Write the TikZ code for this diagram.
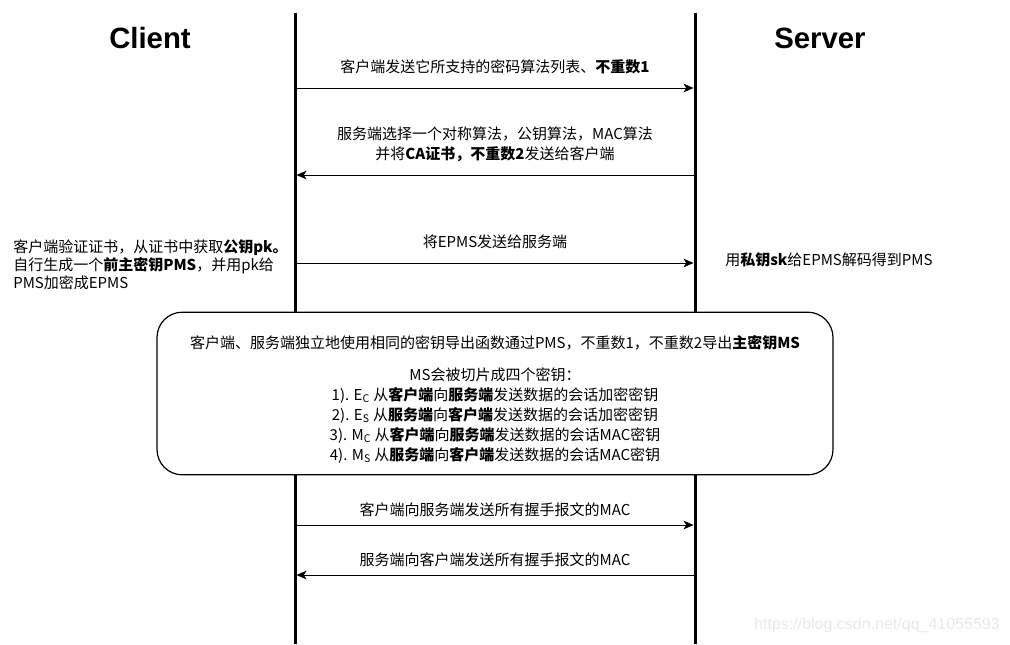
\documentclass[tikz,border=0pt]{standalone}
\usepackage{fontspec}
\setmainfont{Noto Sans CJK SC}
\newfontfamily\titlefont{Liberation Sans}
\usetikzlibrary{arrows.meta}

\begin{document}
\begin{tikzpicture}[
        x=0.75pt, y=-0.75pt,
        every node/.style={inner sep=0pt, align=center, font=\fontsize{11.25}{15}\selectfont},
        title/.style={font=\titlefont\bfseries\fontsize{22}{26}\selectfont},
        lifeline/.style={line width=2.25pt},
        msg/.style={line width=0.75pt, shorten >=1.1pt, -{Stealth[length=7.5pt, width=6.5pt, inset=2pt]}},
        keybox/.style={draw, line width=0.9pt, rounded corners=19pt, fill=white, minimum width=507pt, minimum height=122pt}
    ]
        \useasboundingbox (0,0) rectangle (1010,644);

        % lifelines
        \coordinate (ctop) at (295,13);
        \coordinate (cbot) at (295,644);
        \coordinate (stop) at (695,13);
        \coordinate (sbot) at (695,644);
        \draw[lifeline] (ctop) -- (cbot);
        \draw[lifeline] (stop) -- (sbot);

        \node[title] (client) at (150,38) {Client};
        \node[title] (server) at (820,38) {Server};

        \foreach \n/\y in {1/88, 2/175, 3/263, 4/525, 5/575} {
            \coordinate (c\n) at (295,\y);
            \coordinate (s\n) at (695,\y);
        }

        % handshake messages
        \draw[msg] (c1) -- (s1);
        \node (hello) at (495,67) {客户端发送它所支持的密码算法列表、\textbf{不重数1}};

        \draw[msg] (s2) -- (c2);
        \node (reply) at (495,144) {服务端选择一个对称算法，公钥算法，MAC算法\\并将\textbf{CA证书，不重数2}发送给客户端};

        \draw[msg] (c3) -- (s3);
        \node (epms) at (495,242) {将EPMS发送给服务端};

        \node[anchor=west, align=left, font=\fontsize{11.25}{13.5}\selectfont] (verify) at (13,265)
        {客户端验证证书，从证书中获取\textbf{公钥pk。}\\自行生成一个\textbf{前主密钥PMS}，并用pk给\\PMS加密成EPMS};

        \node[anchor=west] (decode) at (725,260) {用\textbf{私钥sk}给EPMS解码得到PMS};

        % key derivation
        \node[keybox] (kdf) at (495,393.5) {};
        \node (kdftext) at (495,399) {客户端、服务端独立地使用相同的密钥导出函数通过PMS，不重数1，不重数2导出\textbf{主密钥MS}\\[9pt]
            MS会被切片成四个密钥：\\
            1). E\textsubscript{C} 从\textbf{客户端}向\textbf{服务端}发送数据的会话加密密钥\\
            2). E\textsubscript{S} 从\textbf{服务端}向\textbf{客户端}发送数据的会话加密密钥\\
            3). M\textsubscript{C} 从\textbf{客户端}向\textbf{服务端}发送数据的会话MAC密钥\\
            4). M\textsubscript{S} 从\textbf{服务端}向\textbf{客户端}发送数据的会话MAC密钥};

        \draw[msg] (c4) -- (s4);
        \node (cfin) at (495,510) {客户端向服务端发送所有握手报文的MAC};

        \draw[msg] (s5) -- (c5);
        \node (sfin) at (495,560) {服务端向客户端发送所有握手报文的MAC};

        \node[anchor=east, text=gray!18, font=\titlefont\fontsize{12}{14}\selectfont] (mark) at (1000,625) {https://blog.csdn.net/qq\_41055593};
    \end{tikzpicture}
\end{document}
